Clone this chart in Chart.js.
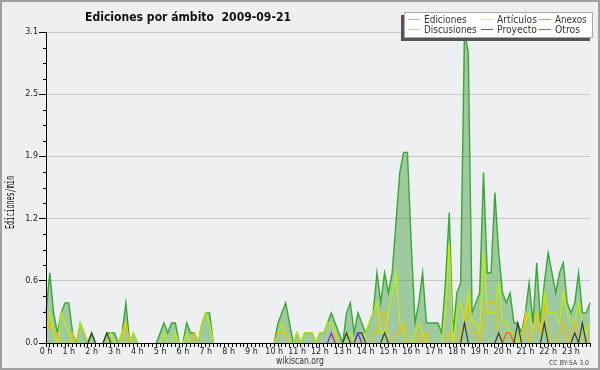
<!DOCTYPE html>
<html>
<head>
<meta charset="utf-8">
<script src="https://cdn.jsdelivr.net/npm/chart.js@4.4.1/dist/chart.umd.min.js"></script>
<style>
  html, body { margin: 0; padding: 0; background: #eeeff0; }
  #chart { display: block; }
</style>
</head>
<body>
<canvas id="chart" width="600" height="370"></canvas>
<script>
// Ediciones por minuto, una muestra cada 10 minutos (144 por día)
const hourLabels = ['0 h', '1 h', '2 h', '3 h', '4 h', '5 h', '6 h', '7 h', '8 h', '9 h', '10 h', '11 h',
    '12 h', '13 h', '14 h', '15 h', '16 h', '17 h', '18 h', '19 h', '20 h', '21 h', '22 h', '23 h'];

const yTicks = [0, 0.62, 1.24, 1.86, 2.48, 3.1];
const yTickLabels = ['0.0', '0.6', '1.2', '1.9', '2.5', '3.1'];

const ediciones = [
    0.3, 0.7, 0.3, 0.1, 0.3, 0.4, 0.4, 0.1, 0, 0.2, 0.1, 0,
    0.1, 0, 0, 0, 0.1, 0.1, 0.1, 0, 0.1, 0.4, 0, 0.1,
    0, 0, 0, 0, 0, 0, 0.1, 0.2, 0.1, 0.2, 0.2, 0,
    0, 0.2, 0.1, 0.1, 0, 0.2, 0.3, 0.3, 0, 0, 0, 0,
    0, 0, 0, 0, 0, 0, 0, 0, 0, 0, 0, 0,
    0, 0.2, 0.3, 0.4, 0.2, 0, 0.1, 0, 0.1, 0.1, 0.1, 0,
    0.1, 0.1, 0.2, 0.3, 0.2, 0.1, 0, 0.3, 0.4, 0.1, 0.3, 0.2,
    0.1, 0.2, 0.3, 0.7, 0.4, 0.7, 0.5, 0.7, 1.2, 1.7, 1.9, 1.9,
    1.0, 0.2, 0.4, 0.7, 0.2, 0.2, 0.2, 0.2, 0.1, 0.6, 1.3, 0.1,
    0.5, 0.6, 3.1, 2.9, 0.3, 0.4, 0.5, 1.7, 0.7, 0.7, 1.5, 0.9,
    0.5, 0.4, 0.5, 0.2, 0.2, 0.1, 0.3, 0.6, 0.2, 0.8, 0.2, 0.6,
    0.9, 0.7, 0.5, 0.7, 0.8, 0.4, 0.3, 0.4, 0.7, 0.3, 0.3, 0.4
];

const articulos = [
    0.1, 0.3, 0.1, 0, 0.3, 0.2, 0.1, 0, 0, 0.2, 0.1, 0,
    0, 0, 0, 0, 0, 0.1, 0, 0, 0.1, 0.2, 0, 0.1,
    0, 0, 0, 0, 0, 0, 0, 0.1, 0, 0, 0.1, 0,
    0, 0.1, 0, 0, 0, 0.2, 0.3, 0.2, 0, 0, 0, 0,
    0, 0, 0, 0, 0, 0, 0, 0, 0, 0, 0, 0,
    0, 0.1, 0.2, 0.1, 0, 0, 0.1, 0, 0.1, 0.1, 0.1, 0,
    0.1, 0.1, 0.2, 0.2, 0.1, 0, 0, 0, 0.1, 0, 0, 0,
    0.1, 0.2, 0.3, 0.4, 0.1, 0.1, 0.3, 0.5, 0.7, 0.2, 0.1, 0,
    0, 0.1, 0.2, 0.1, 0, 0, 0, 0, 0, 0.3, 1.0, 0,
    0.3, 0.4, 0.2, 0.5, 0.2, 0.2, 0.1, 0.9, 0.3, 0.3, 0.3, 0.6,
    0.2, 0.2, 0.1, 0.1, 0, 0.1, 0.2, 0.3, 0.1, 0.3, 0.1, 0.5,
    0.3, 0.3, 0.3, 0.2, 0.5, 0.3, 0.2, 0.2, 0.4, 0.2, 0.1, 0.2
];

const discusiones = [
    0.1, 0.2, 0.1, 0.1, 0, 0, 0, 0.1, 0, 0, 0, 0,
    0, 0, 0, 0, 0, 0, 0, 0, 0, 0.2, 0, 0,
    0, 0, 0, 0, 0, 0, 0, 0, 0, 0, 0, 0,
    0, 0, 0, 0.1, 0, 0, 0, 0, 0, 0, 0, 0,
    0, 0, 0, 0, 0, 0, 0, 0, 0, 0, 0, 0,
    0, 0.1, 0.1, 0.1, 0, 0, 0, 0, 0, 0, 0, 0,
    0, 0, 0, 0, 0.1, 0, 0, 0, 0, 0, 0, 0,
    0, 0, 0.1, 0.1, 0.3, 0.3, 0, 0, 0.1, 0.1, 0.2, 0,
    0, 0, 0.1, 0, 0.1, 0, 0, 0, 0, 0, 0.1, 0,
    0, 0.1, 0.2, 0.4, 0.1, 0.1, 0, 0.2, 0.4, 0.4, 0.4, 0.1,
    0, 0.1, 0.1, 0, 0, 0, 0.3, 0, 0.1, 0.3, 0.1, 0.4,
    0.1, 0, 0, 0.1, 0.2, 0, 0.1, 0.2, 0.1, 0, 0, 0.1
];

const anexos = [
    0, 0, 0, 0, 0, 0, 0, 0, 0, 0, 0, 0,
    0, 0, 0, 0, 0, 0, 0, 0, 0, 0, 0, 0,
    0, 0, 0, 0, 0, 0, 0, 0, 0, 0, 0, 0,
    0, 0, 0, 0, 0, 0, 0, 0, 0, 0, 0, 0,
    0, 0, 0, 0, 0, 0, 0, 0, 0, 0, 0, 0,
    0, 0, 0, 0, 0, 0, 0, 0, 0, 0, 0, 0,
    0, 0, 0, 0, 0, 0, 0, 0, 0, 0, 0, 0,
    0, 0, 0, 0, 0, 0, 0, 0, 0, 0, 0, 0,
    0, 0, 0, 0, 0, 0, 0, 0, 0, 0, 0, 0,
    0, 0, 0, 0, 0, 0, 0, 0, 0, 0, 0, 0,
    0, 0.1, 0.1, 0, 0, 0, 0, 0, 0, 0, 0, 0,
    0, 0, 0, 0, 0, 0, 0, 0, 0, 0, 0, 0
];

const proyecto = [
    0, 0, 0, 0, 0, 0, 0, 0, 0, 0, 0, 0,
    0.1, 0, 0, 0, 0.1, 0, 0, 0, 0, 0, 0, 0,
    0, 0, 0, 0, 0, 0, 0, 0, 0, 0, 0, 0,
    0, 0, 0, 0, 0, 0, 0, 0, 0, 0, 0, 0,
    0, 0, 0, 0, 0, 0, 0, 0, 0, 0, 0, 0,
    0, 0, 0, 0, 0, 0, 0, 0, 0, 0, 0, 0,
    0, 0, 0, 0, 0, 0, 0, 0.1, 0, 0, 0.1, 0.1,
    0, 0, 0, 0, 0, 0.1, 0, 0, 0, 0, 0, 0,
    0, 0, 0, 0, 0, 0, 0, 0, 0, 0, 0, 0,
    0, 0, 0.2, 0, 0, 0, 0, 0, 0, 0, 0, 0.1,
    0, 0, 0, 0, 0.2, 0, 0, 0, 0, 0, 0, 0.2,
    0, 0, 0, 0, 0, 0, 0, 0.1, 0, 0.2, 0, 0
];

const otros = [
    0, 0, 0, 0, 0, 0, 0, 0, 0, 0, 0, 0,
    0, 0, 0, 0, 0, 0, 0, 0, 0, 0, 0, 0,
    0, 0, 0, 0, 0, 0, 0, 0, 0, 0, 0, 0,
    0, 0, 0, 0, 0, 0, 0, 0, 0, 0, 0, 0,
    0, 0, 0, 0, 0, 0, 0, 0, 0, 0, 0, 0,
    0, 0, 0, 0, 0, 0, 0, 0, 0, 0, 0, 0,
    0, 0, 0, 0.1, 0, 0, 0, 0, 0, 0, 0.1, 0,
    0, 0, 0, 0, 0, 0, 0, 0, 0, 0, 0, 0,
    0, 0, 0, 0, 0, 0, 0, 0, 0, 0, 0, 0,
    0, 0, 0, 0, 0, 0, 0, 0, 0, 0, 0, 0,
    0, 0, 0, 0, 0, 0, 0, 0, 0, 0, 0, 0,
    0, 0, 0, 0, 0, 0, 0, 0, 0, 0, 0, 0
];

// Legend entries, in the order they appear (two rows, three columns)
const legendItems = [
    { label: 'Ediciones', color: '#8fd08f' },
    { label: 'Artículos', color: '#d2ee78' },
    { label: 'Anexos', color: '#ee8855' },
    { label: 'Discusiones', color: '#f0d060' },
    { label: 'Proyecto', color: '#666666' },
    { label: 'Otros', color: '#9b5de5' }
];

// one category per 10-minute slot
const slots = [];
for (let h = 0; h < 24; h++) {
    for (let m = 0; m < 60; m += 10) {
        slots.push(h + ':' + (m < 10 ? '0' : '') + m);
    }
}

// draw text squeezed/stretched to a given width
function fitText(ctx, text, x, y, width, font, color) {
    ctx.save();
    ctx.font = font;
    ctx.fillStyle = color;
    ctx.textBaseline = 'alphabetic';
    ctx.textAlign = 'left';
    const w = ctx.measureText(text).width;
    ctx.translate(x, y);
    ctx.scale(width / w, 1);
    ctx.fillText(text, 0, 0);
    ctx.restore();
}

// hide the parts of a line lying flat on the x axis
const hideFlatZero = ctx =>
    (ctx.p0.parsed.y === 0 && ctx.p1.parsed.y === 0) ? 'rgba(0,0,0,0)' : undefined;

const decor = {
    id: 'decor',
    beforeDraw(chart) {
        const ctx = chart.ctx;
        ctx.save();
        ctx.fillStyle = '#eeeff0';
        ctx.fillRect(0, 0, chart.width, chart.height);
        ctx.restore();
    },
    afterDatasetsDraw(chart) {
        const ctx = chart.ctx;
        const area = chart.chartArea;
        const y = chart.scales.y;
        ctx.save();
        ctx.strokeStyle = '#000';
        ctx.lineWidth = 1;
        // axis lines
        ctx.beginPath();
        ctx.moveTo(area.left + 0.5, area.top);
        ctx.lineTo(area.left + 0.5, area.bottom + 0.5);
        ctx.lineTo(area.right, area.bottom + 0.5);
        ctx.stroke();
        // minor ticks on the y axis
        ctx.beginPath();
        for (let k = 1; k < 20; k++) {
            if (k % 4 === 0) continue;
            const py = Math.round(y.getPixelForValue(3.1 * k / 20)) + 0.5;
            ctx.moveTo(area.left - 3, py);
            ctx.lineTo(area.left, py);
        }
        ctx.stroke();
        ctx.restore();
    },
    afterDraw(chart) {
        const ctx = chart.ctx;
        ctx.save();

        // title
        fitText(ctx, 'Ediciones por ámbito  2009-09-21', 85, 21, 206, 'bold 13px "DejaVu Sans"', '#111');

        // y axis title
        ctx.save();
        ctx.translate(14, 229);
        ctx.rotate(-Math.PI / 2);
        fitText(ctx, 'Ediciones/min', 0, 0, 53, '12px "DejaVu Sans Mono"', '#111');
        ctx.restore();

        // legend box with shadow
        ctx.fillStyle = '#555';
        ctx.fillRect(401, 15, 189, 26);
        ctx.fillStyle = '#ffffff';
        ctx.fillRect(404, 12, 189, 26);
        ctx.strokeStyle = '#aaaaaa';
        ctx.lineWidth = 1;
        ctx.strokeRect(404.5, 12.5, 188, 25);

        const colX = [408, 481, 539];
        const textX = [424, 497, 555];
        const textW = [42.7, 40, 31.7, 52.7, 40, 25];
        legendItems.forEach((item, i) => {
            const col = i % 3;
            const row = Math.floor(i / 3);
            const ly = 19.5 + row * 10;
            ctx.strokeStyle = item.color;
            ctx.lineWidth = 1;
            ctx.beginPath();
            ctx.moveTo(colX[col], ly);
            ctx.lineTo(colX[col] + 12, ly);
            ctx.stroke();
            fitText(ctx, item.label, textX[col], ly + 3.5, textW[i], '10px "DejaVu Sans"', '#333');
        });

        // footer
        fitText(ctx, 'wikiscan.org', 276, 364, 48, '10px "DejaVu Sans"', '#333');
        fitText(ctx, 'CC BY-SA 3.0', 549, 365, 40, '7px "DejaVu Sans"', '#444');

        // outer border
        ctx.strokeStyle = '#a0a0a0';
        ctx.lineWidth = 2;
        ctx.strokeRect(1, 1, chart.width - 2, chart.height - 2);
        ctx.restore();
    }
};

function line(label, data, color, order) {
    return {
        label: label,
        data: data,
        borderColor: color,
        borderWidth: 1.2,
        pointRadius: 0,
        tension: 0,
        fill: false,
        order: order,
        segment: { borderColor: hideFlatZero }
    };
}

new Chart(document.getElementById('chart'), {
    type: 'line',
    data: {
        labels: slots,
        datasets: [
            {
                label: 'Ediciones',
                data: ediciones,
                borderColor: '#36a836',
                backgroundColor: 'rgba(50, 150, 50, 0.42)',
                borderWidth: 1.4,
                pointRadius: 0,
                tension: 0,
                fill: 'origin',
                order: 10,
                segment: { borderColor: hideFlatZero }
            },
            line('Artículos', articulos, '#c4ee00', 5),
            line('Discusiones', discusiones, '#f2c000', 4),
            line('Anexos', anexos, '#ff5a1e', 3),
            line('Proyecto', proyecto, '#3a3a2a', 2),
            line('Otros', otros, '#7a28e6', 1)
        ]
    },
    options: {
        responsive: false,
        animation: false,
        devicePixelRatio: 1,
        layout: { padding: { left: 0, top: 32, right: 10, bottom: 0 } },
        plugins: {
            legend: { display: false },
            title: { display: false },
            tooltip: { enabled: false }
        },
        scales: {
            x: {
                type: 'category',
                offset: false,
                grid: { drawOnChartArea: false, drawTicks: true, tickLength: 4, tickColor: '#000', offset: false },
                border: { display: false },
                ticks: {
                    autoSkip: false,
                    maxRotation: 0,
                    minRotation: 0,
                    padding: 0,
                    color: '#222',
                    font: { family: 'DejaVu Sans', size: 8 },
                    callback: (v, i) => (i % 6 === 0 ? hourLabels[i / 6] : '')
                },
                afterFit: s => { s.height = 27; }
            },
            y: {
                min: 0,
                max: 3.1,
                afterBuildTicks: s => { s.ticks = yTicks.map(v => ({ value: v })); },
                grid: { color: '#c8c8c8', tickColor: '#000', tickLength: 7, drawTicks: true },
                border: { display: false },
                ticks: {
                    padding: 1,
                    color: '#222',
                    font: { family: 'DejaVu Sans', size: 8 },
                    callback: (v, i) => yTickLabels[i]
                },
                afterFit: s => { s.width = 46; }
            }
        }
    },
    plugins: [decor]
});
</script>
</body>
</html>
